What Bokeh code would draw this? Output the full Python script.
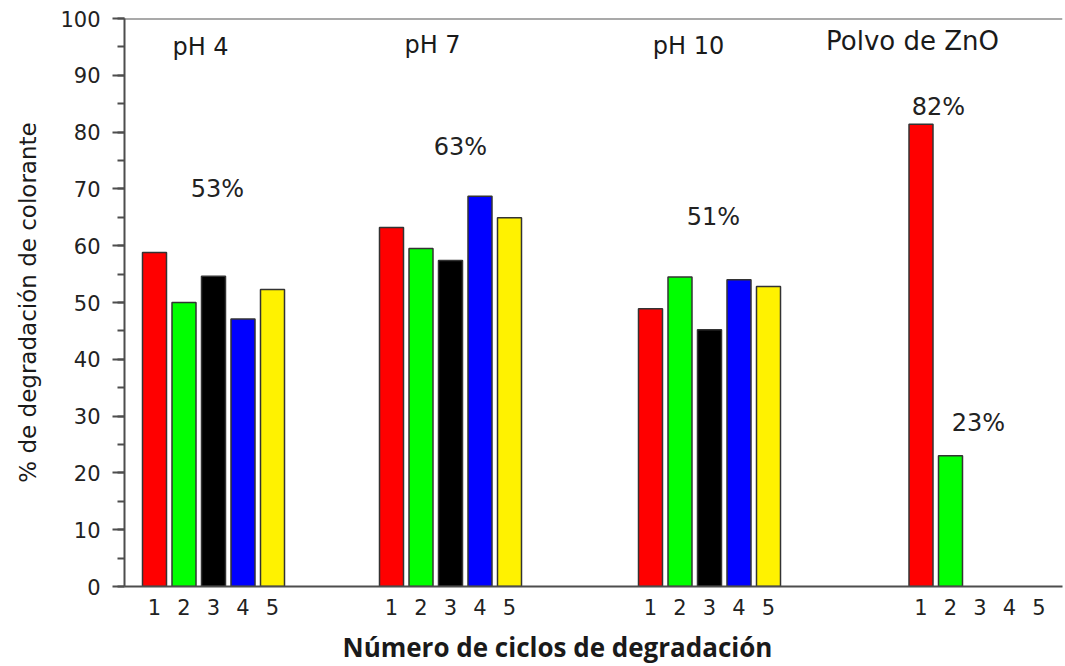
from bokeh.plotting import figure
from bokeh.models import (Range1d, FixedTicker, SingleIntervalTicker, Label,
                          Span, ColumnDataSource, Title)
from bokeh.embed import file_html
from bokeh.resources import INLINE

# ---------------- data ----------------
ciclos = ["1", "2", "3", "4", "5"]
grupos = ["pH 4", "pH 7", "pH 10", "Polvo de ZnO"]
ph4 = [58.8, 50.0, 54.6, 47.1, 52.3]
ph7 = [63.2, 59.5, 57.4, 68.7, 64.9]
ph10 = [48.9, 54.5, 45.2, 54.0, 52.8]
zno = [81.4, 23.0]
etiquetas_pct = ["53%", "63%", "51%", "82%", "23%"]

series = [ph4, ph7, ph10, zno]

# ---------------- layout / style ----------------
colores = ["#ff0000", "#00ff00", "#000000", "#0000ff", "#fff200"]
group_start = [154, 391, 650, 920.5]   # x of first bar in each group (pixel-like units)
pitch = 29.5
bar_w = 24
FONT = "DejaVu Sans"

xs, tops, cols = [], [], []
for g, vals in enumerate(series):
    for i, v in enumerate(vals):
        xs.append(group_start[g] + i * pitch)
        tops.append(v)
        cols.append(colores[i])
src = ColumnDataSource(dict(x=xs, top=tops, color=cols))

tick_pos, tick_lab = [], {}
for g in range(len(grupos)):
    for i, c in enumerate(ciclos):
        t = float(group_start[g] + i * pitch)
        tick_pos.append(t)
        tick_lab[t] = c

p = figure(x_range=Range1d(124, 1062), y_range=Range1d(0, 100),
           frame_width=938, frame_height=568,
           min_border_left=124, min_border_top=18, min_border_right=3,
           min_border_bottom=70,
           output_backend="svg", toolbar_location=None)
p.outline_line_color = None
p.xgrid.visible = False
p.ygrid.visible = False
p.background_fill_color = "white"

p.vbar(x="x", top="top", width=bar_w, bottom=0, fill_color="color",
       line_color="#333333", line_width=1.5, source=src)

# y axis
ya = p.yaxis[0]
ya.ticker = SingleIntervalTicker(interval=10, num_minor_ticks=2)
ya.axis_line_color = "#4d4d4d"
ya.axis_line_width = 2
ya.major_tick_line_color = "#4d4d4d"
ya.major_tick_line_width = 2
ya.minor_tick_line_color = "#4d4d4d"
ya.minor_tick_line_width = 2
ya.major_tick_out = 12
ya.major_tick_in = 0
ya.minor_tick_out = 7
ya.minor_tick_in = 0
ya.major_label_standoff = 12
ya.major_label_text_font = FONT
ya.major_label_text_font_size = "21px"
ya.major_label_text_color = "#222222"
ya.axis_label = "% de degradación de colorante"
ya.axis_label_text_font = FONT
ya.axis_label_text_font_size = "23px"
ya.axis_label_text_font_style = "normal"
ya.axis_label_text_color = "#1a1a1a"
ya.axis_label_standoff = 16

# x axis
xa = p.xaxis[0]
xa.ticker = FixedTicker(ticks=tick_pos)
xa.major_label_overrides = tick_lab
xa.axis_line_color = "#4d4d4d"
xa.axis_line_width = 2
xa.major_tick_out = 0
xa.major_tick_in = 0
xa.minor_tick_out = 0
xa.minor_tick_in = 0
xa.major_label_standoff = 12
xa.major_label_text_font = FONT
xa.major_label_text_font_size = "21px"
xa.major_label_text_color = "#222222"

# x title placed below the axis
p.add_layout(Title(text="Número de ciclos de degradación", align="left", offset=218,
                   text_font="Open Sans", text_font_style="bold", text_font_size="26px",
                   text_color="#1a1a1a", standoff=19), "below")

# top border line
p.add_layout(Span(location=100, dimension="width", line_color="#555555", line_width=2))

# group headers
head_pos = [(200, 94.9, "24px"), (432, 95.4, "24px"), (688, 95.1, "24px"), (912, 96.0, "26px")]
for (hx, hy, fs), txt in zip(head_pos, grupos):
    p.add_layout(Label(x=hx, y=hy, text=txt, text_font=FONT, text_font_size=fs,
                       text_color="#1a1a1a", text_align="center", text_baseline="middle"))

# percentage annotations
pct_pos = [(217, 69.9), (460, 77.3), (713, 65.1), (938, 84.5), (978, 28.7)]
for (lx, ly), txt in zip(pct_pos, etiquetas_pct):
    p.add_layout(Label(x=lx, y=ly, text=txt, text_font=FONT, text_font_size="24px",
                       text_color="#222222", text_align="center", text_baseline="middle"))

open("out.html", "w").write(file_html(p, INLINE))
